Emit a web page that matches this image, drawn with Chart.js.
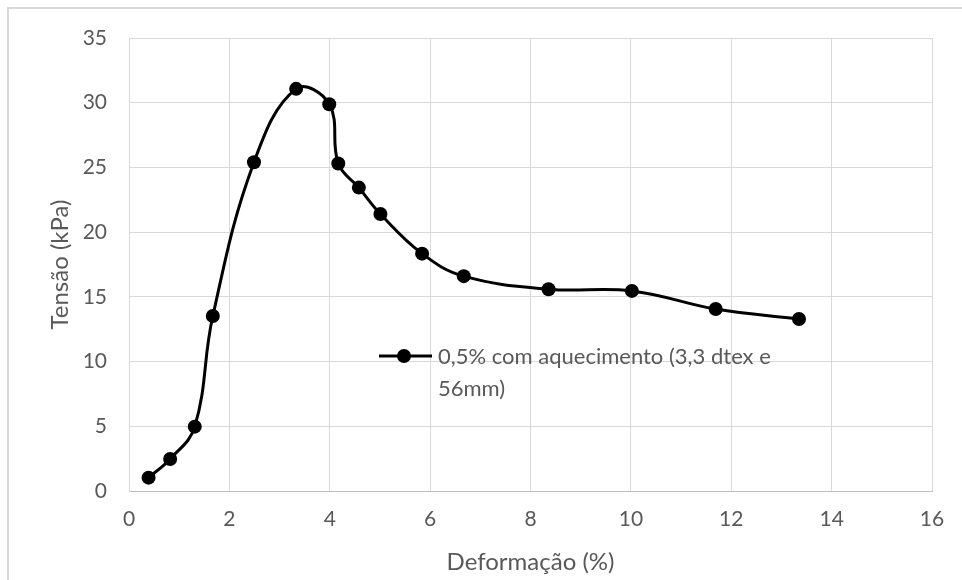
<!DOCTYPE html>
<html>
<head>
<meta charset="utf-8">
<script src="https://cdn.jsdelivr.net/npm/chart.js@4"></script>
<style>
  html, body { margin: 0; padding: 0; background: #ffffff; }
  #wrap { position: relative; width: 962px; height: 580px; }
</style>
</head>
<body>
<div id="wrap"><canvas id="chart" width="962" height="580"></canvas></div>
<script>
// Deformação (%) vs Tensão (kPa)
const deformacao = [0.39, 0.82, 1.31, 1.67, 2.49, 3.33, 3.99, 4.17, 4.58, 5.01, 5.84, 6.67, 8.36, 10.02, 11.69, 13.35];
const tensao     = [1.03, 2.47, 4.97, 13.52, 25.4, 31.07, 29.88, 25.3, 23.44, 21.4, 18.34, 16.6, 15.59, 15.46, 14.06, 13.29];
const serieNome  = ['0,5% com aquecimento (3,3 dtex e', '56mm)'];
const xTicks = [0, 2, 4, 6, 8, 10, 12, 14, 16];
const yTicks = [0, 5, 10, 15, 20, 25, 30, 35];

const FONT = 'Lato, "Open Sans", sans-serif';
const TEXT = '#595959';
const GRID = '#d9d9d9';

// outer frame of the chart object
const framePlugin = {
  id: 'frame',
  beforeDraw(chart) {
    const ctx = chart.ctx;
    ctx.save();
    ctx.fillStyle = '#ffffff';
    ctx.fillRect(0, 0, chart.width, chart.height);
    ctx.strokeStyle = GRID;
    ctx.lineWidth = 2;
    ctx.beginPath();
    ctx.moveTo(8, chart.height);
    ctx.lineTo(8, 8);
    ctx.lineTo(chart.width, 8);
    ctx.stroke();
    ctx.restore();
  }
};

// legend drawn inside the plot, with the wrapped series name
const innerLegend = {
  id: 'innerLegend',
  afterDatasetsDraw(chart) {
    const ctx = chart.ctx;
    const ds = chart.data.datasets[0];
    const xs = chart.scales.x, ys = chart.scales.y;
    const x0 = xs.left + 250, y0 = ys.top + 318;
    ctx.save();
    ctx.strokeStyle = ds.borderColor;
    ctx.lineWidth = ds.borderWidth;
    ctx.beginPath();
    ctx.moveTo(x0, y0);
    ctx.lineTo(x0 + 53, y0);
    ctx.stroke();
    ctx.fillStyle = ds.pointBackgroundColor;
    ctx.beginPath();
    ctx.arc(x0 + 25, y0, ds.pointRadius, 0, Math.PI * 2);
    ctx.fill();
    ctx.fillStyle = TEXT;
    ctx.font = '22px ' + FONT;
    ctx.textBaseline = 'middle';
    ctx.textAlign = 'left';
    serieNome.forEach((t, i) => ctx.fillText(t, x0 + 59, y0 + 1 + i * 32));
    ctx.restore();
  }
};

new Chart(document.getElementById('chart'), {
  type: 'line',
  data: {
    datasets: [{
      label: serieNome.join(' '),
      data: deformacao.map((x, i) => ({ x: x, y: tensao[i] })),
      borderColor: '#000000',
      backgroundColor: '#000000',
      pointBackgroundColor: '#000000',
      pointBorderColor: '#000000',
      borderWidth: 3,
      pointRadius: 7,
      pointBorderWidth: 0,
      tension: 0.4,
      fill: false
    }]
  },
  options: {
    responsive: false,
    animation: false,
    layout: { padding: { left: 0, right: 30, top: 38, bottom: 0 } },
    plugins: { legend: { display: false }, tooltip: { enabled: false } },
    scales: {
      x: {
        type: 'linear',
        min: 0, max: 16,
        afterBuildTicks(s) { s.ticks = xTicks.map(v => ({ value: v })); },
        afterFit(s) { s.height = 89; },
        grid: { color: GRID, lineWidth: 1, drawTicks: false },
        border: { color: '#bfbfbf', width: 1 },
        ticks: { color: TEXT, font: { family: FONT, size: 21 }, padding: 16, maxRotation: 0 },
        title: { display: true, text: 'Deformação (%)', color: TEXT, font: { family: FONT, size: 24 }, padding: { top: 0, bottom: 3 } }
      },
      y: {
        type: 'linear',
        min: 0, max: 35,
        afterBuildTicks(s) { s.ticks = yTicks.map(v => ({ value: v })); },
        afterFit(s) { s.width = 129; },
        grid: { color: GRID, lineWidth: 1, drawTicks: false },
        border: { color: GRID, width: 1 },
        ticks: { color: TEXT, font: { family: FONT, size: 21 }, padding: 22 },
        title: { display: true, text: 'Tensão (kPa)', color: TEXT, font: { family: FONT, size: 24 }, padding: { top: 46, bottom: 0 } }
      }
    }
  },
  plugins: [framePlugin, innerLegend]
});
</script>
</body>
</html>
